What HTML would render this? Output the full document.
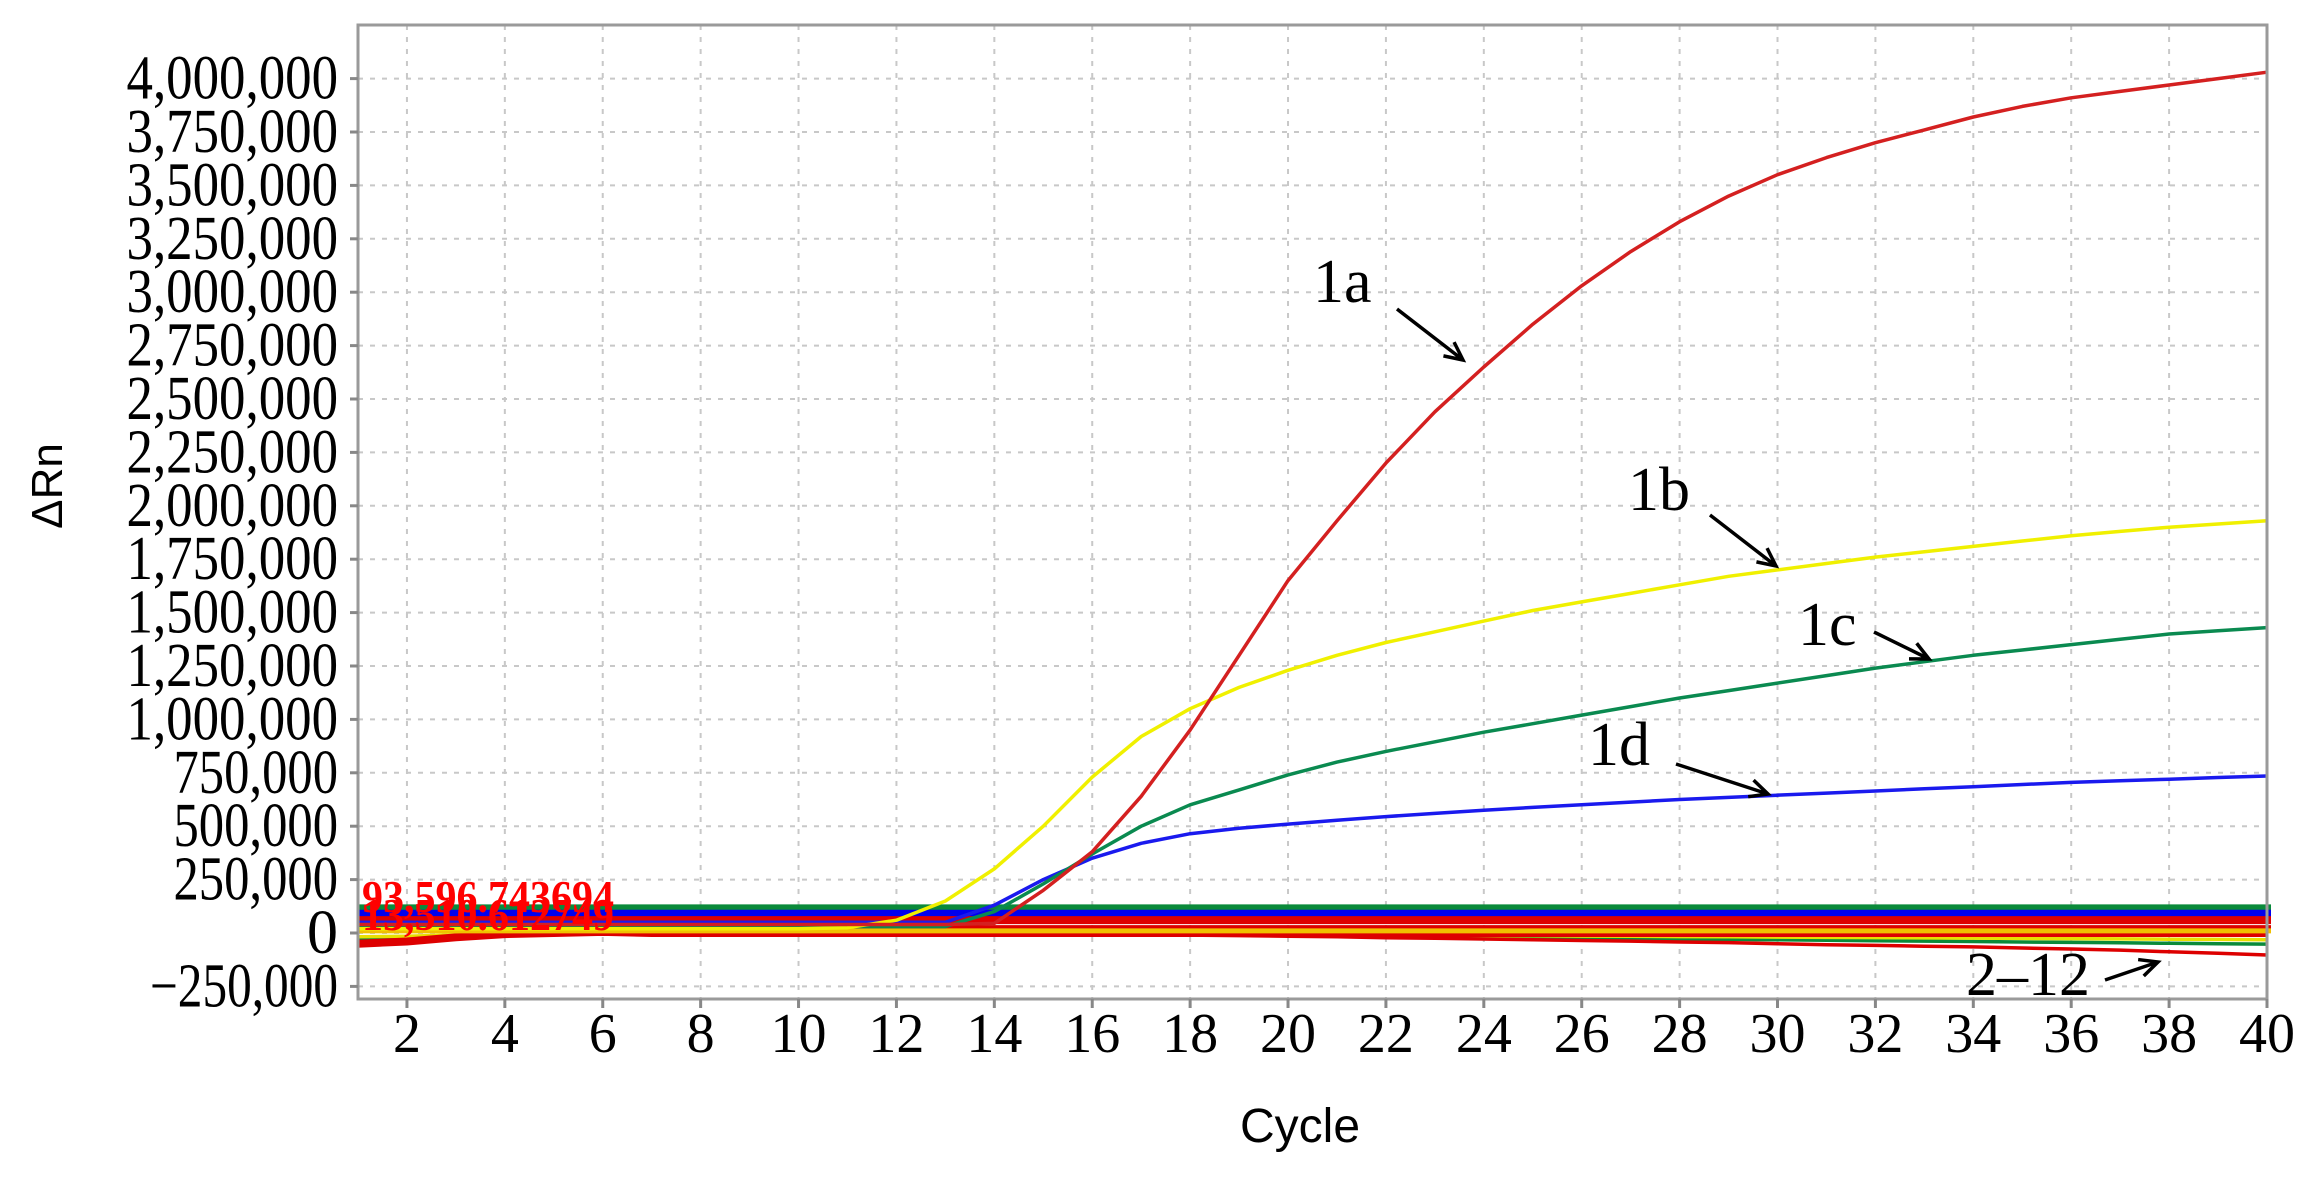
<!DOCTYPE html>
<html><head><meta charset="utf-8"><style>
html,body{margin:0;padding:0;background:#fff;}
svg{display:block;}
</style></head><body>
<svg id="chart" width="2305" height="1181" viewBox="0 0 2305 1181" xmlns="http://www.w3.org/2000/svg">
<rect width="2305" height="1181" fill="#fff"/>
<g id="grid"></g>
<g id="series"></g>
<rect x="358" y="25" width="1909" height="974" fill="none" stroke="#9a9a9a" stroke-width="3"/>
<g id="yticks"></g>
<g id="xticks"></g>
<text x="1300" y="1142" font-family="Liberation Sans, sans-serif" font-size="48" text-anchor="middle">Cycle</text>
<text transform="translate(62,486) rotate(-90)" font-family="Liberation Sans, sans-serif" font-size="44" text-anchor="middle">ΔRn</text>
<g id="annot" font-family="Liberation Serif, serif" font-size="62" fill="#000">
<text x="1313" y="302">1a</text>
<text x="1628" y="510">1b</text>
<text x="1798" y="645">1c</text>
<text x="1588" y="765">1d</text>
<text x="1966" y="995">2–12</text>
</g>
<g id="arrows" stroke="#000" stroke-width="3.5" fill="none"></g>
</svg>
<script>
const cycles = [1,2,3,4,5,6,7,8,9,10,11,12,13,14,15,16,17,18,19,20,21,22,23,24,25,26,27,28,29,30,31,32,33,34,35,36,37,38,39,40];
const s1a = [40000,40000,40000,40000,40000,40000,40000,40000,40000,40000,40000,40000,40000,45000,200000,380000,640000,950000,1300000,1650000,1930000,2200000,2440000,2650000,2850000,3030000,3190000,3330000,3450000,3550000,3630000,3700000,3760000,3820000,3870000,3910000,3940000,3970000,4000000,4030000];
const s1b = [20000,20000,20000,20000,20000,20000,20000,20000,20000,20000,25000,60000,150000,300000,500000,730000,920000,1050000,1150000,1230000,1300000,1360000,1410000,1460000,1510000,1550000,1590000,1630000,1670000,1700000,1730000,1760000,1785000,1810000,1835000,1860000,1880000,1900000,1915000,1930000];
const s1c = [30000,30000,30000,30000,30000,30000,30000,30000,30000,30000,30000,30000,30000,100000,230000,370000,500000,600000,670000,740000,800000,850000,895000,940000,980000,1020000,1060000,1100000,1135000,1170000,1205000,1240000,1270000,1300000,1325000,1350000,1375000,1400000,1415000,1430000];
const s1d = [50000,50000,50000,50000,50000,50000,50000,50000,50000,50000,50000,50000,50000,130000,250000,350000,420000,465000,490000,510000,528000,545000,560000,575000,588000,600000,613000,625000,635000,645000,655000,665000,675000,685000,695000,705000,713000,720000,728000,735000];
const sNeg = [-50000,-40000,-20000,-5000,0,5000,5000,5000,5000,5000,5000,5000,5000,0,0,-5000,-8000,-10000,-12000,-15000,-18000,-22000,-25000,-28000,-32000,-35000,-38000,-42000,-45000,-50000,-55000,-58000,-62000,-65000,-70000,-75000,-80000,-88000,-95000,-103000];
const sBase1 = [-30000,-25000,-15000,-5000,0,0,0,0,0,0,0,0,0,0,-2000,-4000,-6000,-8000,-10000,-12000,-14000,-16000,-18000,-20000,-22000,-24000,-26000,-28000,-30000,-32000,-34000,-36000,-38000,-40000,-42000,-44000,-46000,-48000,-50000,-52000];
const thresholds = [115000,90000,60000,25000,10000];
const thresholdColors = ["#0a8a3a","#0000ee","#dd0000","#dd0000","#f0c000"];
const yTicks = [-250000,0,250000,500000,750000,1000000,1250000,1500000,1750000,2000000,2250000,2500000,2750000,3000000,3250000,3500000,3750000,4000000];
const yTickLabels = ["\u2212250,000","0","250,000","500,000","750,000","1,000,000","1,250,000","1,500,000","1,750,000","2,000,000","2,250,000","2,500,000","2,750,000","3,000,000","3,250,000","3,500,000","3,750,000","4,000,000"];
const xTicks = [2,4,6,8,10,12,14,16,18,20,22,24,26,28,30,32,34,36,38,40];
const thresholdLabels = ["93,596.743694","13,510.612749"];

const NS = "http://www.w3.org/2000/svg";
const X0 = 358, X1 = 2267, Y0 = 933, PER = 53.4/250000;
const xs = c => X0 + (c - 1) * (X1 - X0) / 39;
const ys = v => Y0 - v * PER;
function mk(tag, parent, attrs){ const e = document.createElementNS(NS, tag); for (const k in attrs) e.setAttribute(k, attrs[k]); parent.appendChild(e); return e; }

const grid = document.getElementById('grid');
yTicks.forEach(v => {
  const l = mk('line', grid, {x1:X0, x2:X1, y1:ys(v), y2:ys(v), stroke:'#c8c8c8', 'stroke-width':2, 'stroke-dasharray':'5 7'});
  
  
});
xTicks.forEach(c => {
  if (c === 40) return;
  const l = mk('line', grid, {x1:xs(c), x2:xs(c), y1:25, y2:999, stroke:'#c8c8c8', 'stroke-width':2, 'stroke-dasharray':'5 7'});
  
  
});

const yt = document.getElementById('yticks');
yTicks.forEach((v, i) => {
  const t = mk('line', yt, {x1:X0-8, x2:X0, y1:ys(v), y2:ys(v), stroke:'#888', 'stroke-width':3});
  
  
  const lab = yTickLabels[i];
  const tx = mk('text', yt, {x:338, y:ys(v)+20, 'text-anchor':'end', 'font-family':'Liberation Serif, serif', 'font-size':62});
  if (lab.length >= 7) { tx.setAttribute('textLength', lab.length * 23.5); tx.setAttribute('lengthAdjust', 'spacingAndGlyphs'); }
  tx.textContent = lab;
  
  
});
const xt = document.getElementById('xticks');
xTicks.forEach(c => {
  const t = mk('line', xt, {x1:xs(c), x2:xs(c), y1:999, y2:1008, stroke:'#888', 'stroke-width':3});
  
  
  const tx = mk('text', xt, {x:xs(c), y:1052, 'text-anchor':'middle', 'font-family':'Liberation Serif, serif', 'font-size':56});
  tx.textContent = c;
  
  
});

const sg = document.getElementById('series');
function line(arr, color, w, name){
  const d = arr.map((v, i) => (i ? 'L' : 'M') + xs(cycles[i]).toFixed(1) + ',' + ys(v).toFixed(1)).join(' ');
  const p = mk('path', sg, {d:d, fill:'none', stroke:color, 'stroke-width':w, 'stroke-linejoin':'round'});
  
  
}
line(sBase1, '#0a8a3a', 3.5, 'baseline-green');
line(sBase1.map(v => v * 0.6), '#e8e000', 3.5, 'baseline-yellow');
line(sNeg, '#dd0000', 3.5, 'baseline-red');
line(sNeg.slice(0,6).concat(sNeg.slice(6).map(()=>0)), '#dd0000', 8, 'baseline-red-start');
thresholds.forEach((v, i) => {
  const l = mk('line', sg, {x1:X0, x2:X1+4, y1:ys(v), y2:ys(v), stroke:thresholdColors[i], 'stroke-width':i < 3 ? 8 : 5});
  
  
});
line(s1d, '#1a1aee', 3.5, 'series-1d');
line(s1c, '#0a8a50', 3.5, 'series-1c');
line(s1b, '#f0f000', 3.5, 'series-1b');
line(s1a, '#d42020', 3.5, 'series-1a');
thresholdLabels.forEach((lab, i) => {
  const t = mk('text', sg, {x:362, y:i ? 930 : 912, fill:'#ff0000', 'font-family':'Liberation Serif, serif', 'font-weight':'bold', 'font-size':46, textLength:252, lengthAdjust:'spacingAndGlyphs'});
  t.textContent = lab;
  
  
});

const ag = document.getElementById('arrows');
[[1397,309,1463,360,'arrow-1a'],[1710,515,1776,566,'arrow-1b'],[1874,632,1929,659,'arrow-1c'],[1676,764,1768,794,'arrow-1d'],[2105,980,2158,962,'arrow-2-12']].forEach(a => {
  const [x1,y1,x2,y2,n] = a;
  const ang = Math.atan2(y2-y1, x2-x1), L = 20;
  const d = `M${x1},${y1} L${x2},${y2} M${x2-L*Math.cos(ang-0.45)},${y2-L*Math.sin(ang-0.45)} L${x2},${y2} L${x2-L*Math.cos(ang+0.45)},${y2-L*Math.sin(ang+0.45)}`;
  const p = mk('path', ag, {d:d});
  
  
});
</script>
</body></html>
